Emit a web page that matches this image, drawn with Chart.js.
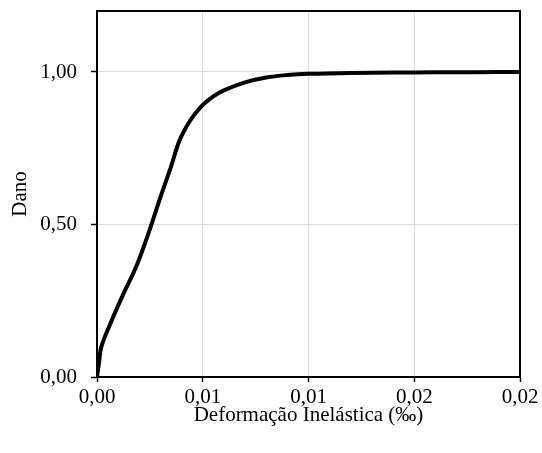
<!DOCTYPE html>
<html>
<head>
<meta charset="utf-8">
<script src="https://cdn.jsdelivr.net/npm/chart.js@4/dist/chart.umd.min.js"></script>
<style>
  html,body{margin:0;padding:0;background:#fff;}
  #wrap{width:542px;height:453px;position:relative;}
</style>
</head>
<body>
<div id="wrap"><canvas id="c" width="542" height="453"></canvas></div>
<script>
// Data
const strain = [0, 0.0001, 0.0002, 0.0006, 0.0012, 0.0019, 0.0025, 0.003, 0.0035, 0.0039, 0.0044, 0.0049, 0.0055, 0.006, 0.007, 0.008, 0.009, 0.010, 0.012, 0.014, 0.016, 0.018, 0.020];
const damage = [0, 0.05, 0.098, 0.17, 0.265, 0.37, 0.485, 0.59, 0.69, 0.775, 0.84, 0.885, 0.92, 0.94, 0.966, 0.982, 0.99, 0.994, 0.997, 0.998, 0.999, 0.9995, 1.0];
const xTickValues = [0, 0.005, 0.01, 0.015, 0.02];
const xTickLabels = ['0,00', '0,01', '0,01', '0,02', '0,02'];
const yTickValues = [0, 0.5, 1.0];
const yTickLabels = ['0,00', '0,50', '1,00'];
const xTitle = 'Deformação Inelástica (‰)';
const yTitle = 'Dano';

const points = strain.map((x, i) => ({x: x, y: damage[i]}));

const framePlugin = {
  id: 'frame',
  afterDatasetsDraw(chart) {
    const {ctx, chartArea: a} = chart;
    ctx.save();
    ctx.strokeStyle = '#000';
    ctx.lineWidth = 2;
    ctx.strokeRect(a.left, a.top, a.right - a.left, a.bottom - a.top);
    ctx.restore();
  }
};

const font = {family: '"Liberation Serif", "Times New Roman", serif', size: 21};

new Chart(document.getElementById('c'), {
  type: 'line',
  data: {
    datasets: [{
      data: points,
      borderColor: '#000',
      borderWidth: 4,
      pointRadius: 0,
      fill: false,
      tension: 0.35
    }]
  },
  options: {
    responsive: false,
    animation: false,
    layout: {padding: {left: 0, right: 22, top: 11, bottom: 0}},
    plugins: {legend: {display: false}, tooltip: {enabled: false}},
    scales: {
      x: {
        type: 'linear',
        min: 0, max: 0.02,
        afterBuildTicks: (s) => { s.ticks = xTickValues.map(v => ({value: v})); },
        afterFit: (s) => { s.height = 76; s.paddingLeft = 0; s.paddingRight = 0; },
        ticks: {
          font: font, color: '#000', padding: 3, maxRotation: 0, autoSkip: false,
          callback: (v, i) => xTickLabels[i]
        },
        grid: {color: '#d9d9d9', lineWidth: 1, tickColor: '#000', tickLength: 5, tickWidth: 1.5},
        border: {color: '#000', width: 2},
        title: {display: true, text: xTitle, font: font, color: '#000', padding: {top: 0, bottom: 25}}
      },
      y: {
        type: 'linear',
        min: 0, max: 1.2,
        afterBuildTicks: (s) => { s.ticks = yTickValues.map(v => ({value: v})); },
        afterFit: (s) => { s.width = 97; s.paddingTop = 0; s.paddingBottom = 0; },
        ticks: {
          font: font, color: '#000', padding: 14, autoSkip: false,
          callback: (v, i) => yTickLabels[i]
        },
        grid: {color: '#d9d9d9', lineWidth: 1, tickColor: '#000', tickLength: 6, tickWidth: 1.5},
        border: {color: '#000', width: 2},
        title: {display: true, text: yTitle, font: font, color: '#000', padding: {top: 8, bottom: 0}}
      }
    }
  },
  plugins: [framePlugin]
});
</script>
</body>
</html>
